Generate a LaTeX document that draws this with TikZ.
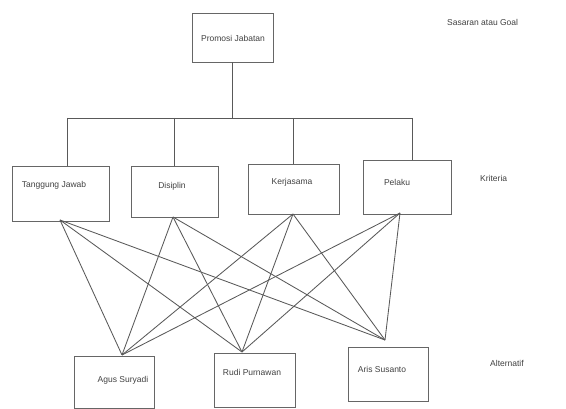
\documentclass[tikz,border=0pt]{standalone}
\usepackage{fontspec}
\setmainfont{Liberation Sans}
\begin{document}
\begin{tikzpicture}[x=1pt,y=-1pt,
  box/.style={draw=black!60,line width=0.9pt,rectangle,inner sep=0pt},
  txt/.style={font=\fontsize{8.5}{9}\selectfont,text=black!75,inner sep=0pt},
  ln/.style={draw=black!65,line width=0.85pt}]
\useasboundingbox (0,0) rectangle (566,409);
% goal
\node[box,minimum width=81pt,minimum height=49pt] (goal) at (232.5,37.5) {};
\node[txt] (goalt) at (233,38) {Promosi Jabatan};
\node[txt,anchor=west] (lg) at (447,22) {Sasaran atau Goal};
% criteria
\node[box,minimum width=97pt,minimum height=55pt] (tj) at (60.5,193.5) {};
\node[txt] (tjt) at (54,185) {Tanggung Jawab};
\node[box,minimum width=87pt,minimum height=51pt] (ds) at (174.5,191.5) {};
\node[txt] (dst) at (172,186) {Disiplin};
\node[box,minimum width=91pt,minimum height=50pt] (kj) at (293.5,189) {};
\node[txt] (kjt) at (292,182) {Kerjasama};
\node[box,minimum width=88pt,minimum height=54pt] (pl) at (407,187) {};
\node[txt] (plt) at (397,182) {Pelaku};
\node[txt,anchor=west] (lk) at (480,178) {Kriteria};
% alternatives
\node[box,minimum width=80pt,minimum height=52pt] (ag) at (114,382) {};
\node[txt] (agt) at (123,380) {Agus Suryadi};
\node[box,minimum width=81pt,minimum height=54pt] (rp) at (254.5,380) {};
\node[txt] (rpt) at (252,372) {Rudi Purnawan};
\node[box,minimum width=80pt,minimum height=54pt] (as) at (388,374) {};
\node[txt] (ast) at (382,369) {Aris Susanto};
\node[txt,anchor=west] (la) at (490,363) {Alternatif};
% tree
\coordinate (hub) at (232.5,118);
\coordinate (c1) at (67,118);
\coordinate (c2) at (174,118);
\coordinate (c3) at (293,118);
\coordinate (c4) at (412,118);
\draw[ln] (goal.south) -- (hub);
\draw[ln] (c1) -- (c4);
\draw[ln] (c1) -- (c1 |- tj.north);
\draw[ln] (c2) -- (c2 |- ds.north);
\draw[ln] (c3) -- (c3 |- kj.north);
\draw[ln] (c4) -- (c4 |- pl.north);
% connection points
\coordinate (p1) at (60,220);
\coordinate (p2) at (173,217);
\coordinate (p3) at (293,214);
\coordinate (p4) at (400,213);
\coordinate (q1) at (122,355);
\coordinate (q2) at (242,352);
\coordinate (q3) at (385,340);
\foreach \p in {p1,p2,p3,p4}{
  \foreach \q in {q1,q2,q3}{
    \draw[ln] (\p) -- (\q);
  }
}
\end{tikzpicture}
\end{document}
